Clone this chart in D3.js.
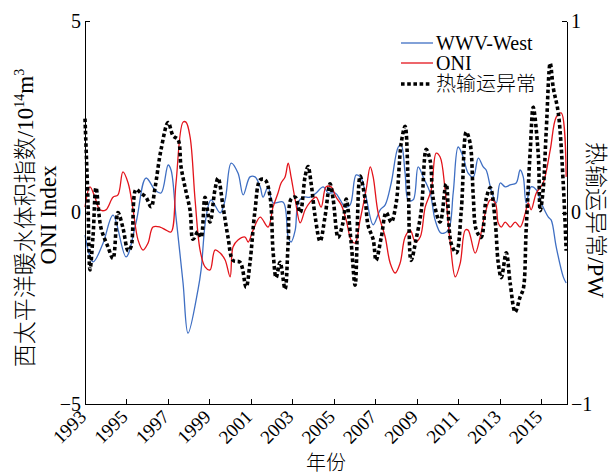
<!DOCTYPE html>
<html>
<head>
<meta charset="utf-8">
<title>WWV-West, ONI and heat transport</title>
<script src="https://d3js.org/d3.v7.min.js"></script>
<style>
  body { margin: 0; background: #fff; }
  svg text { font-family: "Liberation Serif", "Times New Roman", "Noto Sans CJK SC", serif; fill: #000; font-weight: 300; }
  .axis path, .axis line { stroke: #000; stroke-width: 1; shape-rendering: crispEdges; }
  .axis text { font-size: 20px; }
  .x.axis text { font-size: 19px; }
</style>
</head>
<body>
<svg id="chart"></svg>
<script>
// WWV-West (left axis, 10^14 m^3)
var wwvYears = [1993.00,1993.39,1993.87,1994.35,1994.98,1995.46,1995.94,1996.38,1996.67,1997.01,1997.15,1997.39,1997.73,1997.97,1998.45,1998.60,1998.84,1999.08,1999.52,1999.76,2000.05,2000.38,2000.63,2000.96,2001.20,2001.45,2001.59,2001.83,2002.07,2002.56,2002.80,2002.94,2003.14,2003.28,2003.52,2003.86,2004.15,2004.49,2004.73,2005.07,2005.31,2005.55,2005.79,2006.08,2006.32,2006.56,2006.90,2007.24,2007.48,2007.77,2008.11,2008.25,2008.44,2008.59,2008.83,2009.07,2009.31,2009.65,2009.89,2010.18,2010.52,2010.76,2011.00,2011.24,2011.48,2011.73,2011.97,2012.21,2012.35,2012.59,2012.84,2013.03,2013.27,2013.51,2013.80,2013.99,2014.14,2014.28,2014.52,2014.77,2015.01,2015.35,2015.49,2015.73,2016.07,2016.21];
var wwvValues = [-0.59,-1.29,-0.80,-0.07,-1.16,-0.27,0.90,0.59,0.51,1.24,1.11,-0.12,-1.84,-3.15,-2.02,-1.50,-0.12,0.33,-0.01,0.33,1.29,1.03,0.46,0.93,0.93,0.67,0.40,0.67,0.25,0.27,-0.64,-0.77,-0.46,0.25,0.40,0.40,0.51,0.67,0.51,0.51,0.33,0.14,0.20,0.98,0.90,0.40,-0.32,0.07,0.20,0.77,1.71,1.76,1.03,0.33,0.33,1.19,0.93,0.51,-0.20,-0.54,-0.46,0.51,1.71,1.45,1.03,0.93,1.42,1.19,1.11,0.59,0.25,0.77,0.67,0.72,0.77,1.11,0.93,0.25,0.67,0.59,0.25,-0.12,-0.20,-0.90,-1.68,-1.84];

// ONI (left axis)
var oniYears = [1993.00,1993.24,1993.48,1993.72,1994.01,1994.35,1994.59,1994.83,1995.08,1995.32,1995.56,1995.80,1996.04,1996.28,1996.62,1996.91,1997.15,1997.39,1997.73,1997.87,1998.07,1998.31,1998.55,1998.79,1999.03,1999.27,1999.52,1999.76,2000.00,2000.14,2000.38,2000.72,2000.87,2001.11,2001.45,2001.83,2002.07,2002.31,2002.46,2002.65,2002.80,2002.94,2003.14,2003.38,2003.62,2003.86,2004.15,2004.39,2004.63,2004.87,2005.11,2005.36,2005.60,2005.84,2006.03,2006.27,2006.56,2006.76,2006.90,2007.14,2007.48,2007.72,2007.96,2008.20,2008.44,2008.69,2008.93,2009.17,2009.41,2009.70,2009.94,2010.13,2010.37,2010.62,2010.86,2011.10,2011.34,2011.48,2011.82,2012.06,2012.31,2012.55,2012.79,2012.93,2013.08,2013.27,2013.51,2013.75,2013.99,2014.24,2014.38,2014.52,2014.77,2015.10,2015.44,2015.73,2015.97,2016.21];
var oniValues = [0.14,0.67,0.40,0.07,0.07,0.40,0.46,1.06,0.77,0.07,-0.72,-0.98,-0.80,-0.38,-0.38,-0.46,-0.51,0.77,2.36,2.36,1.97,0.33,-0.98,-1.42,-1.50,-0.98,-1.06,-1.24,-1.68,-0.90,-0.72,-0.64,-0.77,-0.46,-0.12,-0.38,0.14,0.51,0.77,0.93,1.29,0.93,0.33,-0.27,0.07,0.27,0.40,0.14,0.67,0.67,0.40,0.20,-0.20,-0.72,-0.80,-0.20,0.59,1.19,0.93,-0.01,-0.64,-1.32,-1.58,-1.32,-0.64,-0.46,-0.77,-0.64,0.14,0.59,1.55,1.45,0.59,-0.80,-1.68,-1.32,-0.46,-0.46,-1.06,-0.64,-0.01,0.33,0.25,-0.27,-0.38,-0.25,-0.38,-0.25,-0.38,-0.01,0.25,0.07,0.51,0.77,1.63,2.49,2.60,0.93];

// heat transport anomaly (right axis, PW)
var heatYears = [1993.00,1993.14,1993.24,1993.39,1993.53,1993.77,1994.11,1994.35,1994.59,1994.83,1995.08,1995.22,1995.46,1995.70,1995.94,1996.19,1996.38,1996.67,1997.01,1997.25,1997.49,1997.63,1997.83,1998.07,1998.21,1998.45,1998.60,1998.79,1999.03,1999.27,1999.42,1999.66,1999.90,2000.14,2000.48,2000.77,2000.96,2001.20,2001.45,2001.69,2001.93,2002.07,2002.22,2002.41,2002.65,2002.80,2002.94,2003.14,2003.38,2003.62,2003.76,2003.91,2004.10,2004.34,2004.58,2004.82,2004.97,2005.21,2005.45,2005.60,2005.84,2006.03,2006.27,2006.51,2006.66,2006.90,2007.04,2007.29,2007.53,2007.77,2008.01,2008.25,2008.44,2008.59,2008.73,2008.97,2009.22,2009.46,2009.65,2009.80,2010.13,2010.42,2010.66,2010.91,2011.15,2011.39,2011.58,2011.73,2011.87,2012.11,2012.35,2012.55,2012.79,2012.93,2013.08,2013.32,2013.51,2013.75,2013.99,2014.14,2014.28,2014.48,2014.62,2014.86,2014.96,2015.10,2015.25,2015.44,2015.59,2015.83,2016.07,2016.21];
var heatValues = [0.49,0.07,-0.30,-0.12,0.13,-0.08,-0.18,-0.24,0.00,-0.08,-0.20,-0.18,0.12,0.10,0.08,0.03,0.13,0.33,0.47,0.40,0.38,0.24,0.13,0.01,-0.14,-0.10,-0.13,0.08,-0.05,0.12,0.18,0.03,-0.13,-0.25,-0.26,-0.39,-0.26,0.01,0.17,0.17,0.08,-0.20,-0.34,-0.26,-0.40,-0.16,0.07,0.08,0.00,0.19,0.24,0.15,-0.02,-0.15,-0.02,0.15,0.07,-0.13,-0.05,0.07,-0.16,-0.38,0.19,0.07,-0.07,-0.14,-0.25,-0.13,0.00,-0.05,0.05,0.36,0.45,0.15,-0.25,-0.14,0.01,0.33,0.27,0.07,-0.05,0.15,-0.16,-0.21,0.01,0.42,0.36,0.08,-0.09,-0.13,0.07,0.13,-0.05,-0.26,-0.34,-0.21,-0.37,-0.52,-0.44,-0.40,-0.09,0.33,0.55,0.31,0.01,0.12,0.43,0.78,0.65,0.52,0.15,-0.20];

var xTicks = [1993,1995,1997,1999,2001,2003,2005,2007,2009,2011,2013,2015];
var yLeftTicks = [-5, 0, 5];
var yRightTicks = [-1, 0, 1];
var legendNames = ['WWV-West', 'ONI', '热输运异常'];

(function () {
	var W = 613, H = 475,
		margin = {top: 21, right: 46, bottom: 71, left: 85},
		width = W - margin.left - margin.right,
		height = H - margin.top - margin.bottom;

	var x = d3.scaleLinear([1993, 2016.25], [0, width]),
		yL = d3.scaleLinear([-5, 5], [height, 0]),
		yR = d3.scaleLinear([-1, 1], [height, 0]);

	var svg = d3.select('#chart').attr('width', W).attr('height', H);
	var g = svg.append('g').attr('transform', 'translate(' + margin.left + ',' + margin.top + ')');

	function zip(xs, ys) { return xs.map(function (v, i) { return [v, ys[i]]; }); }

	var series = [
		{name: legendNames[0], data: zip(wwvYears, wwvValues), y: yL, color: '#3f6fc3', width: 1.3, dash: null},
		{name: legendNames[1], data: zip(oniYears, oniValues), y: yL, color: '#e3141b', width: 1.3, dash: null},
		{name: legendNames[2], data: zip(heatYears, heatValues), y: yR, color: '#000', width: 3.6, dash: '3.6,2.6'}
	];

	// lines
	series.forEach(function (s) {
		var line = d3.line()
			.x(function (d) { return x(d[0]); })
			.y(function (d) { return s.y(d[1]); })
			.curve(d3.curveCatmullRom.alpha(0.5));
		g.append('path')
			.datum(s.data)
			.attr('fill', 'none')
			.attr('stroke', s.color)
			.attr('stroke-width', s.width)
			.attr('stroke-dasharray', s.dash)
			.attr('d', line);
	});

	// X axis
	var xAxis = g.append('g')
		.attr('class', 'x axis')
		.attr('transform', 'translate(0,' + height + ')')
		.call(d3.axisBottom(x).tickValues(xTicks).tickFormat(d3.format('d')).tickSizeInner(-5).tickSizeOuter(0));
	xAxis.selectAll('text')
		.attr('x', 0).attr('y', 0).attr('dy', 0)
		.attr('text-anchor', 'end')
		.attr('transform', 'translate(2,14) rotate(-45)');

	// left Y axis
	g.append('g')
		.attr('class', 'y axis')
		.call(d3.axisLeft(yL).tickValues(yLeftTicks).tickFormat(d3.format('d')).tickSizeInner(-5).tickSizeOuter(0).tickPadding(4));

	// right Y axis
	g.append('g')
		.attr('class', 'y axis')
		.attr('transform', 'translate(' + width + ',0)')
		.call(d3.axisRight(yR).tickValues(yRightTicks).tickFormat(d3.format('d')).tickSizeInner(-5).tickSizeOuter(0).tickPadding(4));

	// X title
	svg.append('text')
		.attr('x', margin.left + width / 2)
		.attr('y', 470)
		.attr('text-anchor', 'middle')
		.style('font-size', '20px')
		.text('年份');

	// left Y title (two lines)
	var yt = svg.append('text')
		.attr('transform', 'translate(33,218) rotate(-90)')
		.attr('text-anchor', 'middle')
		.style('font-size', '23px');
	yt.append('tspan').text('西太平洋暖水体积指数/10');
	yt.append('tspan').attr('dy', -9).style('font-size', '14px').text('14');
	yt.append('tspan').attr('dy', 9).text('m');
	yt.append('tspan').attr('dy', -9).style('font-size', '14px').text('3');

	svg.append('text')
		.attr('transform', 'translate(56,215) rotate(-90)')
		.attr('text-anchor', 'middle')
		.style('font-size', '23px')
		.text('ONI Index');

	// right Y title
	svg.append('text')
		.attr('transform', 'translate(588,220) rotate(90)')
		.attr('text-anchor', 'middle')
		.style('font-size', '23px')
		.text('热输运异常/PW');

	// legend
	var legendRows = [43, 63, 84];
	var lg = svg.append('g');
	series.forEach(function (s, i) {
		lg.append('line')
			.attr('x1', 401).attr('x2', s.dash ? 430 : 433)
			.attr('y1', legendRows[i]).attr('y2', legendRows[i])
			.attr('stroke', s.color)
			.attr('stroke-width', s.width)
			.attr('stroke-dasharray', s.dash);
		lg.append('text')
			.attr('x', 436)
			.attr('y', legendRows[i])
			.attr('dy', '0.35em')
			.style('font-size', '20px')
			.text(s.name);
	});
}());
</script>
</body>
</html>
